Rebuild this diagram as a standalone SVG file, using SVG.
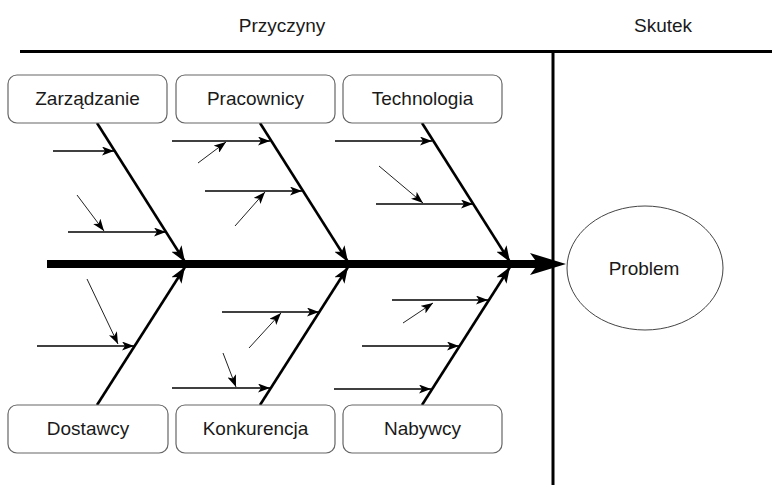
<svg xmlns="http://www.w3.org/2000/svg" width="772" height="485" viewBox="0 0 772 485">
<defs>
<style>
text{font-family:"Liberation Sans",Arial,sans-serif;font-size:19px;fill:#1a1a1a;text-anchor:middle}
.box{fill:#fff;stroke:#666;stroke-width:1.2}
.frame{stroke:#000;stroke-width:3;fill:none}
.bone{stroke:#000;stroke-width:2.6;fill:none;marker-end:url(#big)}
.sub{stroke:#000;stroke-width:1.3;fill:none;marker-end:url(#small)}
.tiny{stroke:#222;stroke-width:1;fill:none;marker-end:url(#small)}
</style>
<marker id="big" markerUnits="userSpaceOnUse" markerWidth="17" markerHeight="12" refX="16" refY="6" orient="auto"><path d="M0,0 L16,6 L0,12 L4,6 z" fill="#000"/></marker>
<marker id="small" markerUnits="userSpaceOnUse" markerWidth="13" markerHeight="9" refX="12" refY="4.5" orient="auto"><path d="M0,0 L12,4.5 L0,9 L3,4.5 z" fill="#000"/></marker>
</defs>
<rect width="772" height="485" fill="#fff"/>
<g id="header">
<text x="282" y="32">Przyczyny</text>
<text x="663" y="32">Skutek</text>
<line class="frame" x1="20" y1="51.5" x2="772" y2="51.5"/>
<line class="frame" x1="553" y1="51" x2="553" y2="485"/>
</g>
<g id="connectors">
<line x1="47" y1="264" x2="540" y2="264" stroke="#000" stroke-width="8"/>
<path d="M566,264 L530,253 L538,264 L530,275 z" fill="#000"/>
<line class="bone" x1="97" y1="123" x2="185" y2="262"/>
<line class="bone" x1="260" y1="123" x2="348" y2="262"/>
<line class="bone" x1="422" y1="123" x2="510" y2="262"/>
<line class="bone" x1="97" y1="405" x2="185" y2="267"/>
<line class="bone" x1="260" y1="405" x2="348" y2="267"/>
<line class="bone" x1="422" y1="405" x2="510" y2="267"/>
<line class="sub" x1="53" y1="151" x2="114" y2="151"/>
<line class="sub" x1="68" y1="232" x2="166" y2="232"/>
<line class="tiny" x1="77" y1="195" x2="104" y2="231"/>
<line class="sub" x1="172" y1="141" x2="270" y2="141"/>
<line class="tiny" x1="198" y1="163" x2="226" y2="142"/>
<line class="sub" x1="205" y1="191" x2="302" y2="191"/>
<line class="tiny" x1="235" y1="226" x2="265" y2="192"/>
<line class="sub" x1="335" y1="141" x2="432" y2="141"/>
<line class="tiny" x1="379" y1="166" x2="423" y2="203"/>
<line class="sub" x1="376" y1="204" x2="473" y2="204"/>
<line class="sub" x1="37" y1="346" x2="134" y2="346"/>
<line class="tiny" x1="87" y1="279" x2="118" y2="344"/>
<line class="sub" x1="222" y1="312" x2="319" y2="312"/>
<line class="tiny" x1="249" y1="348" x2="281" y2="313"/>
<line class="sub" x1="172" y1="388" x2="270" y2="388"/>
<line class="tiny" x1="223" y1="353" x2="236" y2="387"/>
<line class="sub" x1="392" y1="300" x2="488" y2="300"/>
<line class="tiny" x1="403" y1="323" x2="433" y2="303"/>
<line class="sub" x1="362" y1="346" x2="459" y2="346"/>
<line class="sub" x1="334" y1="389" x2="431" y2="389"/>
</g>
<g id="zarzadzanie"><rect class="box" x="8" y="75" width="159" height="48" rx="9"/><text x="87.5" y="105">Zarządzanie</text></g>
<g id="pracownicy"><rect class="box" x="176" y="75" width="159" height="48" rx="9"/><text x="255.5" y="105">Pracownicy</text></g>
<g id="technologia"><rect class="box" x="343" y="75" width="159" height="48" rx="9"/><text x="422.5" y="105">Technologia</text></g>
<g id="dostawcy"><rect class="box" x="8" y="405" width="160" height="48" rx="9"/><text x="88" y="435">Dostawcy</text></g>
<g id="konkurencja"><rect class="box" x="176" y="405" width="159" height="48" rx="9"/><text x="255.5" y="435">Konkurencja</text></g>
<g id="nabywcy"><rect class="box" x="343" y="405" width="159" height="48" rx="9"/><text x="422.5" y="435">Nabywcy</text></g>
<g id="problem"><ellipse cx="645" cy="268" rx="78" ry="62" fill="#fff" stroke="#444" stroke-width="1"/><text x="644" y="275">Problem</text></g>
</svg>
